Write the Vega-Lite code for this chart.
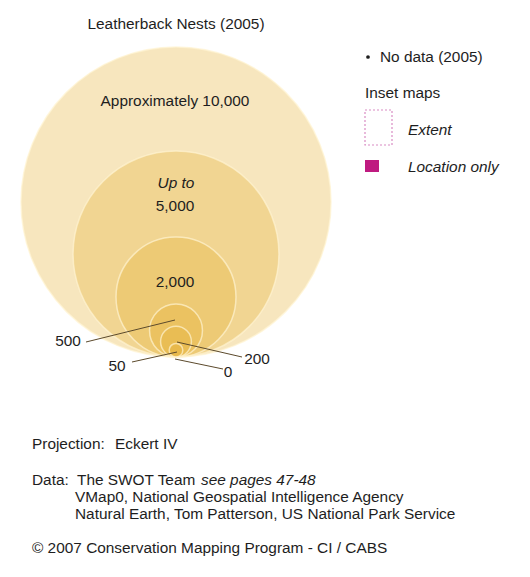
{
  "$schema": "https://vega.github.io/schema/vega-lite/v6.json",
  "width": 530,
  "height": 577,
  "autosize": {"type": "fit", "contains": "padding"},
  "padding": 0,
  "background": "#ffffff",
  "config": {"view": {"stroke": null}, "text": {"font": "Liberation Sans", "fontSize": 15.4, "color": "#1e1e1e"}},
  "datasets": {
    "circles": [
      {"nests": 10000},
      {"nests": 5000},
      {"nests": 2000},
      {"nests": 500},
      {"nests": 200},
      {"nests": 50},
      {"nests": 0}
    ],
    "centerLabels": [
      {"text": "Leatherback Nests (2005)", "x": 176, "y": 24},
      {"text": "Approximately 10,000", "x": 175, "y": 101},
      {"text": "5,000", "x": 175, "y": 206},
      {"text": "2,000", "x": 175, "y": 282},
      {"text": "500", "x": 68, "y": 341},
      {"text": "50", "x": 117, "y": 366},
      {"text": "200", "x": 257, "y": 359},
      {"text": "0", "x": 228, "y": 372}
    ],
    "centerItalic": [
      {"text": "Up to", "x": 176, "y": 183}
    ],
    "leftLabels": [
      {"text": "No data (2005)", "x": 380, "y": 57},
      {"text": "Inset maps", "x": 365, "y": 93},
      {"text": "Projection:", "x": 32, "y": 444},
      {"text": "Eckert IV", "x": 115, "y": 444},
      {"text": "Data:", "x": 32, "y": 480},
      {"text": "The SWOT Team", "x": 77, "y": 480},
      {"text": "VMap0, National Geospatial Intelligence Agency", "x": 75, "y": 497},
      {"text": "Natural Earth, Tom Patterson, US National Park Service", "x": 75, "y": 514},
      {"text": "© 2007 Conservation Mapping Program - CI / CABS", "x": 32, "y": 548}
    ],
    "leftItalic": [
      {"text": "Extent", "x": 408, "y": 130},
      {"text": "Location only", "x": 408, "y": 167},
      {"text": "see pages 47-48", "x": 201, "y": 480}
    ],
    "leaders": [
      {"label": "500", "x": 86, "y": 342, "x2": 175, "y2": 320},
      {"label": "200", "x": 177, "y": 342, "x2": 242, "y2": 357},
      {"label": "50", "x": 132, "y": 362, "x2": 177, "y2": 352},
      {"label": "0", "x": 175, "y": 359, "x2": 223, "y2": 369}
    ],
    "noData": [{"x": 368, "y": 57}],
    "extent": [{"x": 365, "x2": 392, "y": 110, "y2": 145}],
    "location": [{"x": 365, "x2": 379, "y": 160, "y2": 172}]
  },
  "layer": [
    {
      "data": {"name": "circles"},
      "mark": {"type": "point", "shape": "circle", "filled": true, "fill": "#E8B43A", "fillOpacity": 0.33, "stroke": "#fff4d2", "strokeWidth": 1.5, "strokeOpacity": 0.7},
      "encoding": {
        "x": {"datum": 176, "type": "quantitative", "scale": {"domain": [0, 530], "nice": false, "zero": false}, "axis": null},
        "y": {"field": "nests", "type": "quantitative", "scale": {"type": "pow", "exponent": 0.59, "domain": [0, 10000], "range": [357, 202], "nice": false, "zero": false}, "axis": null},
        "size": {"field": "nests", "type": "quantitative", "scale": {"type": "pow", "exponent": 1.18, "domain": [0, 10000], "range": [0, 96100], "nice": false, "zero": false}, "legend": null}
      }
    },
    {
      "encoding": {
        "x": {"field": "x", "type": "quantitative", "scale": {"domain": [0, 530], "nice": false, "zero": false}, "axis": null},
        "y": {"field": "y", "type": "quantitative", "scale": {"domain": [0, 577], "nice": false, "zero": false, "reverse": true}, "axis": null}
      },
      "layer": [
        {
          "data": {"name": "leaders"},
          "mark": {"type": "rule", "color": "#5c4a2c", "strokeWidth": 1},
          "encoding": {"x2": {"field": "x2"}, "y2": {"field": "y2"}}
        },
        {
          "data": {"name": "extent"},
          "mark": {"type": "rect", "fill": null, "fillOpacity": 0, "stroke": "#d98cc4", "strokeWidth": 1.2, "strokeDash": [2, 2]},
          "encoding": {"x2": {"field": "x2"}, "y2": {"field": "y2"}}
        },
        {
          "data": {"name": "location"},
          "mark": {"type": "rect", "fill": "#bf1a80"},
          "encoding": {"x2": {"field": "x2"}, "y2": {"field": "y2"}}
        },
        {
          "data": {"name": "noData"},
          "mark": {"type": "point", "shape": "circle", "filled": true, "fill": "#1e1e1e", "size": 14, "opacity": 1}
        },
        {
          "data": {"name": "centerLabels"},
          "mark": {"type": "text", "align": "center", "baseline": "middle"},
          "encoding": {"text": {"field": "text"}}
        },
        {
          "data": {"name": "centerItalic"},
          "mark": {"type": "text", "align": "center", "baseline": "middle", "fontStyle": "italic"},
          "encoding": {"text": {"field": "text"}}
        },
        {
          "data": {"name": "leftLabels"},
          "mark": {"type": "text", "align": "left", "baseline": "middle"},
          "encoding": {"text": {"field": "text"}}
        },
        {
          "data": {"name": "leftItalic"},
          "mark": {"type": "text", "align": "left", "baseline": "middle", "fontStyle": "italic"},
          "encoding": {"text": {"field": "text"}}
        }
      ]
    }
  ],
  "resolve": {"scale": {"y": "independent"}}
}
